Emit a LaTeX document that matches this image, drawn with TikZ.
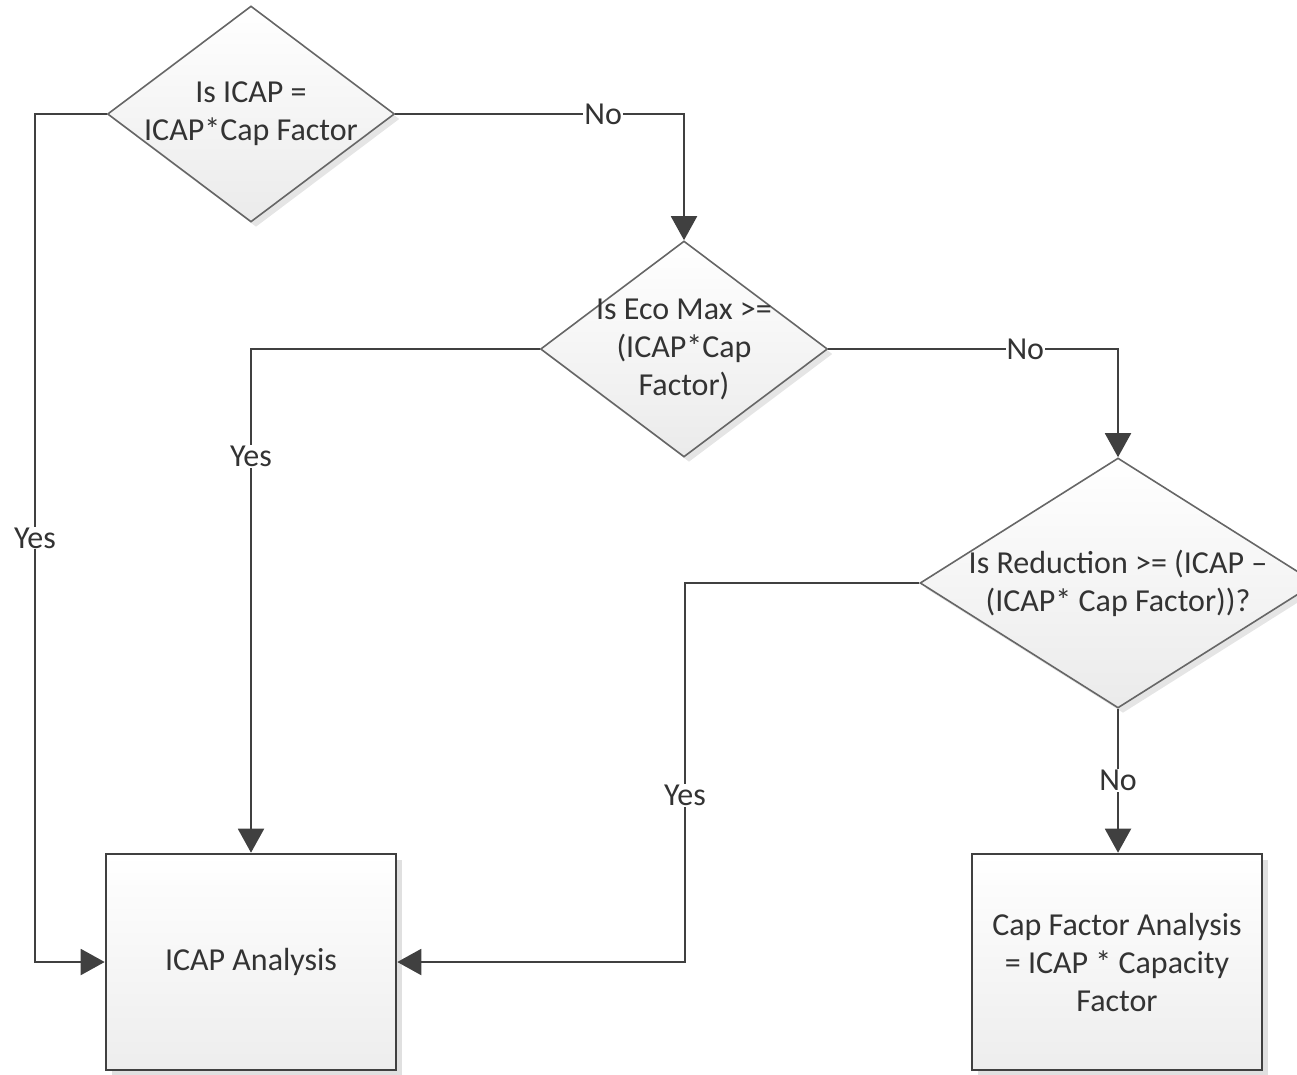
\documentclass[tikz,border=0pt]{standalone}
\usepackage{fontspec}
\setmainfont{Carlito}
\usetikzlibrary{arrows.meta,shapes.geometric,shadows}
\begin{document}
\begin{tikzpicture}[x=1pt,y=-1pt,
  every node/.style={font=\fontsize{32}{38}\selectfont, text=black!80},
  dia/.style={diamond, draw=black!60, line width=1.6pt, top color=white, bottom color=black!8,
    inner sep=0pt, drop shadow={shadow xshift=5pt, shadow yshift=-5pt, fill=black!10, opacity=1}},
  box/.style={rectangle, draw=black!75, line width=2.6pt, top color=white, bottom color=black!7,
    minimum width=290pt, minimum height=216pt, inner sep=0pt, align=center,
    drop shadow={shadow xshift=6pt, shadow yshift=-6pt, fill=black!12, opacity=1}},
  conn/.style={draw=black!75, line width=2pt, -{Triangle[length=24pt,width=26pt]}},
  lbl/.style={fill=white, inner sep=1pt}]
\useasboundingbox (0,0) rectangle (1297,1074);

\node[dia, minimum width=287pt, minimum height=216pt,
  label={[align=center]center:{Is ICAP =\\ICAP*Cap Factor}}] (d1) at (251,114) {};
\node[dia, minimum width=287pt, minimum height=216pt,
  label={[align=center]center:{Is Eco Max >=\\(ICAP*Cap\\Factor)}}] (d2) at (684,349) {};
\node[dia, minimum width=396pt, minimum height=250pt,
  label={[align=center]center:{Is Reduction >= (ICAP –\\(ICAP* Cap Factor))?}}] (d3) at (1118,583) {};

\node[box] (b1) at (251,962) {ICAP Analysis};
\node[box] (b2) at (1117,962) {Cap Factor Analysis\\= ICAP * Capacity\\Factor};

\coordinate (c1) at (35,114);
\coordinate (c3) at (685,962);

\draw[conn] (d1.west) -- (c1) |- node[pos=0.25,lbl]{Yes} (b1.west);
\draw[conn] (d1.east) -| node[pos=0.36,lbl]{No} (d2.north);
\draw[conn] (d2.west) -| node[pos=0.607,lbl]{Yes} (b1.north);
\draw[conn] (d2.east) -| node[pos=0.34,lbl]{No} (d3.north);
\draw[conn] (d3.west) -| node[pos=0.78,lbl]{Yes} (c3) -- (b1.east);
\draw[conn] (d3.south) -- node[lbl]{No} (d3.south |- b2.north);
\end{tikzpicture}
\end{document}
